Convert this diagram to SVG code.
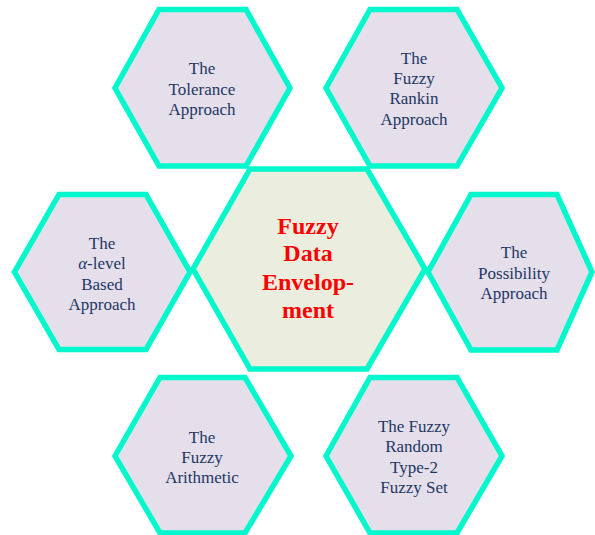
<svg xmlns="http://www.w3.org/2000/svg" width="595" height="535" viewBox="0 0 595 535">
<style>
.hex{fill:#E5DFEC;stroke:#00F8CC;stroke-width:5.5;stroke-linejoin:miter}
.core{fill:#EBEEDF;stroke:#00F8CC;stroke-width:5.5;stroke-linejoin:miter}
.lbl{font-family:"Liberation Serif","Times New Roman",serif;font-size:17px;fill:#1F3763;text-anchor:middle}
.title{font-family:"Liberation Serif","Times New Roman",serif;font-size:24px;font-weight:bold;fill:#FF0000;text-anchor:middle}
</style>
<rect width="595" height="535" fill="#FFFFFF"/>
<g id="connectors"></g>
<g id="tolerance">
<polygon class="hex" points="115,88 159,9.5 246,9.5 290,88 246,166 159,166"/>
<text class="lbl" x="202" y="74">The</text>
<text class="lbl" x="202" y="94.5">Tolerance</text>
<text class="lbl" x="202" y="114.5">Approach</text>
</g>
<g id="ranking">
<polygon class="hex" points="326,88 370,9.5 457,9.5 502,88 457,166 370,166"/>
<text class="lbl" x="414" y="63.5">The</text>
<text class="lbl" x="414" y="84">Fuzzy</text>
<text class="lbl" x="414" y="104">Rankin</text>
<text class="lbl" x="414" y="124.5">Approach</text>
</g>
<g id="alpha">
<polygon class="hex" points="14.5,272 59,194.5 146,194.5 190,272 146,349.5 59,349.5"/>
<text class="lbl" x="102" y="248.5">The</text>
<text class="lbl" x="102" y="269"><tspan font-style="italic">α</tspan>-level</text>
<text class="lbl" x="102" y="289.5">Based</text>
<text class="lbl" x="102" y="309.5">Approach</text>
</g>
<g id="possibility">
<polygon class="hex" points="428,272 471,194.5 557,194.5 592,272 557,350 471,350"/>
<text class="lbl" x="514" y="257.5">The</text>
<text class="lbl" x="514" y="278.5">Possibility</text>
<text class="lbl" x="514" y="298.5">Approach</text>
</g>
<g id="arithmetic">
<polygon class="hex" points="115,456 160,377.5 245,377.5 291,456 245,533 160,533"/>
<text class="lbl" x="202" y="442.5">The</text>
<text class="lbl" x="202" y="462.5">Fuzzy</text>
<text class="lbl" x="202" y="482.5">Arithmetic</text>
</g>
<g id="random">
<polygon class="hex" points="326,456 370,377.5 457,377.5 502,456 457,533 370,533"/>
<text class="lbl" x="414" y="431.5">The Fuzzy</text>
<text class="lbl" x="414" y="452">Random</text>
<text class="lbl" x="414" y="472.5">Type-2</text>
<text class="lbl" x="414" y="493">Fuzzy Set</text>
</g>
<g id="center">
<polygon class="core" points="193,269 250,169 367,169 425,269 367,369 250,369"/>
<text class="title" x="308" y="233.5">Fuzzy</text>
<text class="title" x="308" y="261">Data</text>
<text class="title" x="308" y="290">Envelop-</text>
<text class="title" x="308" y="318">ment</text>
</g>
</svg>
